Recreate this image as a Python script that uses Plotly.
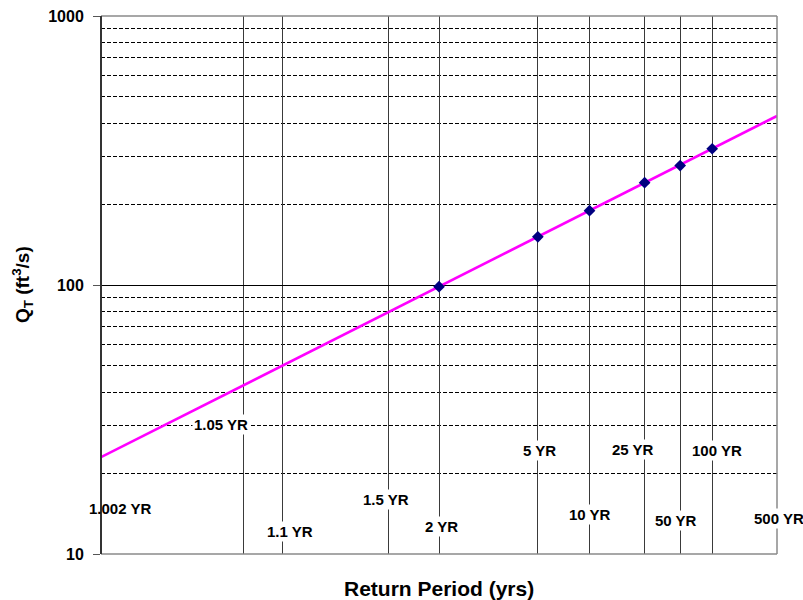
import plotly.graph_objects as go
from statistics import NormalDist
import math

# Return periods marked on the probability axis (years)
grid_T = [1.002, 1.05, 1.1, 1.5, 2, 5, 10, 25, 50, 100, 500]
grid_labels = ["1.002 YR", "1.05 YR", "1.1 YR", "1.5 YR", "2 YR", "5 YR",
               "10 YR", "25 YR", "50 YR", "100 YR", "500 YR"]
# Height (ft^3/s) at which each return-period label sits, and its sideways nudge
label_Q = [14.8, 30.2, 12.1, 16.0, 12.7, 24.2, 14.0, 24.4, 13.3, 24.2, 13.6]
label_shift = [19, -22, 8, -2, 2, 2, 0, -12, -4, 5, 2]

# Estimated peak discharges at the standard return periods
est_T = [2, 5, 10, 25, 50, 100]
est_Q = [98.6, 151, 189, 240, 278, 321]

# Fitted log-normal frequency line (end points over the plotted range)
fit_T = [1.002, 500]
fit_Q = [22.9, 425]

# Discharge gridlines
major_Q = [10, 100, 1000]
minor_Q = [20, 30, 40, 50, 60, 70, 80, 90, 200, 300, 400, 500, 600, 700, 800, 900]

nd = NormalDist()


def z_of(T):
    """Standard normal variate for a return period (non-exceedance 1 - 1/T)."""
    return nd.inv_cdf(1.0 - 1.0 / T)


FONT = "Liberation Sans, Arial, sans-serif"

fig = go.Figure()

fig.add_trace(go.Scatter(
    x=[z_of(t) for t in fit_T], y=fit_Q, mode="lines",
    line=dict(color="#FF00FF", width=2.6), hoverinfo="skip", showlegend=False,
))
fig.add_trace(go.Scatter(
    x=[z_of(t) for t in est_T], y=est_Q, mode="markers",
    marker=dict(symbol="diamond", size=9, color="#000080"),
    showlegend=False,
))

annotations = []
for t, lab, q, dx in zip(grid_T, grid_labels, label_Q, label_shift):
    annotations.append(dict(
        x=z_of(t), y=math.log10(q), xref="x", yref="y", text=lab,
        showarrow=False, xshift=dx, xanchor="center", yanchor="middle",
        font=dict(family=FONT, size=15, color="black", weight="bold"),
        bgcolor=None if t == grid_T[0] else "white", borderpad=1,
    ))

annotations.append(dict(
    x=0.5, y=0, xref="paper", yref="paper", yshift=-34, text="Return Period (yrs)",
    showarrow=False, xanchor="center", yanchor="middle",
    font=dict(family=FONT, size=21, color="black", weight="bold"),
))
annotations.append(dict(
    x=0, y=0.5, xref="paper", yref="paper", xshift=-79,
    text="Q<sub>T</sub> (ft<sup>3</sup>/s)", textangle=-90,
    showarrow=False, xanchor="center", yanchor="middle",
    font=dict(family=FONT, size=19, color="black", weight="bold"),
))

shapes = [
    # top, bottom and right borders in grey, left axis darker
    dict(type="line", xref="x domain", yref="y domain", x0=0, x1=1, y0=1, y1=1,
         line=dict(color="#8a8a8a", width=1.5)),
    dict(type="line", xref="x domain", yref="y domain", x0=0, x1=1, y0=0, y1=0,
         line=dict(color="#8a8a8a", width=1.5)),
    dict(type="line", xref="x domain", yref="y domain", x0=1, x1=1, y0=0, y1=1,
         line=dict(color="#8a8a8a", width=1.5)),
    dict(type="line", xref="x domain", yref="y domain", x0=0, x1=0, y0=0, y1=1,
         line=dict(color="#333333", width=2)),
]

fig.update_layout(
    width=803, height=600,
    margin=dict(l=101, r=26, t=16, b=46, autoexpand=False),
    paper_bgcolor="white", plot_bgcolor="white",
    annotations=annotations, shapes=shapes,
    showlegend=False,
    xaxis=dict(
        range=[z_of(grid_T[0]), z_of(grid_T[-1])],
        tickmode="array", tickvals=[z_of(t) for t in grid_T],
        showticklabels=False, ticks="", automargin=False,
        showgrid=True, gridcolor="#3a3a3a", gridwidth=1,
        zeroline=False, showline=False,
    ),
    yaxis=dict(
        type="log", range=[1, 3], automargin=False,
        tickmode="array", tickvals=major_Q, ticktext=[str(v) for v in major_Q],
        ticks="outside", ticklen=7, tickcolor="#555555", tickwidth=1,
        ticklabelstandoff=6,
        tickfont=dict(family=FONT, size=16, color="black", weight="bold"),
        showgrid=True, gridcolor="black", gridwidth=1,
        zeroline=False, showline=False,
        minor=dict(tickmode="array", tickvals=minor_Q, showgrid=True,
                   gridcolor="#000000", gridwidth=1.2, griddash="4px,2px", ticks=""),
    ),
)

fig.write_html("out.html")
